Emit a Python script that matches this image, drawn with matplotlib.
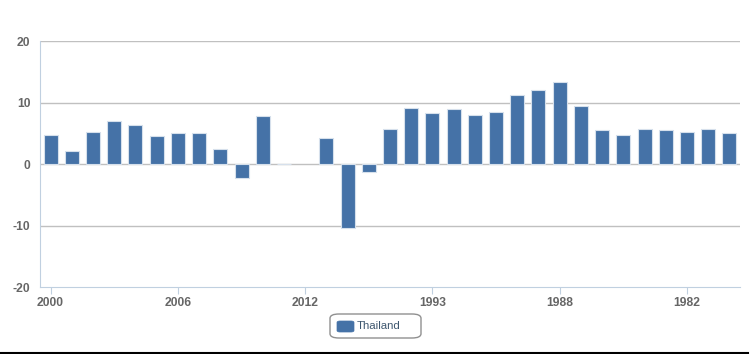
import numpy as np
import matplotlib.pyplot as plt
from matplotlib.patches import FancyBboxPatch
from matplotlib.lines import Line2D

plt.rcParams['font.family'] = ['Liberation Sans', 'DejaVu Sans']
plt.rcParams['axes.unicode_minus'] = False

# category labels (only every 6th is shown on the axis)
years = ['2000', '2001', '2002', '2003', '2004', '2005', '2006', '2007', '2008',
         '2009', '2010', '2011', '2012', '1999', '1998', '1997', '1996', '1994',
         '1993', '1992', '1991', '1990', '1989', '1989', '1988', '1987', '1986',
         '1985', '1984', '1983', '1982', '1981', '1980']
thailand = [4.8, 2.1, 5.3, 7.0, 6.3, 4.6, 5.1, 5.0, 2.5, -2.2, 7.8, 0.1, np.nan,
            4.3, -10.4, -1.2, 5.8, 9.2, 8.3, 9.0, 8.0, 8.5, 11.2, 12.1, 13.3,
            9.5, 5.5, 4.7, 5.8, 5.6, 5.3, 5.8, 5.1]
y_ticks = [-20, -10, 0, 10, 20]

bar_color = '#4572A7'
grid_color = '#C0C0C0'
axis_color = '#C0D0E0'
label_color = '#666666'

fig = plt.figure(figsize=(7.5, 3.54), dpi=100)
ax = fig.add_axes([40 / 750, 1 - 287 / 354, 700 / 750, (287 - 41.3) / 354])

x = np.arange(len(years))
ax.bar(x, thailand, width=0.66, color=bar_color, edgecolor='#D6E0EC',
       linewidth=0.8, zorder=3)

ax.set_xlim(-0.5, len(years) - 0.5)
ax.set_ylim(-20, 20)
ax.set_yticks(y_ticks)
ax.set_yticklabels([str(v) for v in y_ticks], fontsize=8.7, fontweight='bold',
                   color=label_color)
ax.tick_params(axis='y', length=0, pad=7)

shown = list(range(0, len(years), 6))
ax.set_xticks(shown)
ax.set_xticklabels([years[i] for i in shown], fontsize=8.7, fontweight='bold',
                   color=label_color)
ax.tick_params(axis='x', length=5, color=axis_color, pad=2)

for v in y_ticks:
    if v != -20:
        ax.axhline(v, color=grid_color, linewidth=1, zorder=1)

for side in ['top', 'right']:
    ax.spines[side].set_visible(False)
ax.spines['left'].set_color(axis_color)
ax.spines['bottom'].set_color(axis_color)

# legend box
leg_box = FancyBboxPatch((330 / 750, 1 - 338 / 354), 91 / 750, 24 / 354,
                         boxstyle='round,pad=0,rounding_size=0.012',
                         transform=fig.transFigure, facecolor='white',
                         edgecolor='#909090', linewidth=1)
fig.patches.append(leg_box)
sym = FancyBboxPatch((337 / 750, 1 - 332 / 354), 17 / 750, 11 / 354,
                     boxstyle='round,pad=0,rounding_size=0.004',
                     transform=fig.transFigure, facecolor=bar_color,
                     edgecolor=bar_color, linewidth=0.5)
fig.patches.append(sym)
fig.text(357 / 750, 1 - 326 / 354, 'Thailand', fontsize=8.2, color='#3E576F',
         va='center', ha='left')

# bottom border of the chart frame
fig.lines.append(Line2D([0, 748 / 750], [1 - 352.5 / 354] * 2,
                        transform=fig.transFigure, color='black', linewidth=1.5))

fig.savefig('out.png', dpi=100)
